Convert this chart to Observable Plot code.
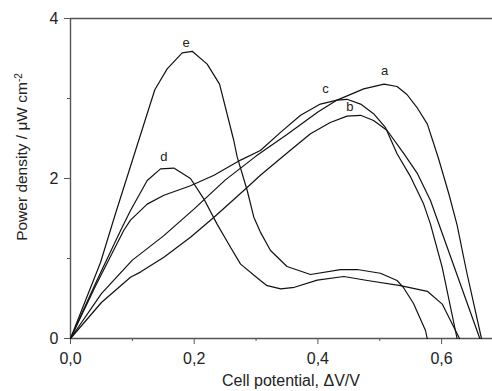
<!DOCTYPE html>
<html>
<head>
<meta charset="utf-8">
<script src="https://cdn.jsdelivr.net/npm/d3@7"></script>
<script src="https://cdn.jsdelivr.net/npm/@observablehq/plot@0.6"></script>
<style>
  html, body { margin: 0; padding: 0; background: #fff; }
  #chart { width: 492px; height: 391px; overflow: hidden; }
</style>
</head>
<body>
<div id="chart"></div>
<script>
// Curve a
const aX = [0, 0.05, 0.1, 0.15, 0.2, 0.25, 0.3, 0.35, 0.4, 0.431, 0.474, 0.507, 0.528, 0.544, 0.56, 0.577, 0.595, 0.612, 0.625, 0.64, 0.6645];
const aY = [0, 0.56, 0.98, 1.28, 1.62, 1.98, 2.28, 2.55, 2.83, 2.98, 3.12, 3.18, 3.15, 3.05, 2.89, 2.68, 2.25, 1.8, 1.42, 0.85, 0];
// Curve b
const bX = [0, 0.05, 0.097, 0.113, 0.151, 0.194, 0.232, 0.286, 0.307, 0.355, 0.388, 0.42, 0.447, 0.469, 0.49, 0.512, 0.539, 0.561, 0.582, 0.6618];
const bY = [0, 0.45, 0.766, 0.83, 1.016, 1.266, 1.516, 1.89, 2.04, 2.35, 2.56, 2.7, 2.78, 2.79, 2.725, 2.6, 2.31, 2.06, 1.725, 0];
// Curve c
const cX = [0, 0.04, 0.086, 0.097, 0.124, 0.151, 0.194, 0.232, 0.275, 0.307, 0.34, 0.372, 0.404, 0.431, 0.447, 0.469, 0.49, 0.509, 0.528, 0.55, 0.571, 0.582, 0.601, 0.625];
const cY = [0, 0.65, 1.35, 1.48, 1.68, 1.79, 1.91, 2.04, 2.23, 2.35, 2.58, 2.79, 2.93, 2.98, 2.99, 2.93, 2.81, 2.64, 2.31, 2.02, 1.68, 1.43, 0.89, 0];
// Curve d
const dX = [0, 0.04, 0.081, 0.097, 0.124, 0.1455, 0.167, 0.194, 0.2155, 0.237, 0.2587, 0.275, 0.307, 0.318, 0.34, 0.362, 0.399, 0.442, 0.48, 0.5335, 0.577, 0.601, 0.6225, 0.629];
const dY = [0, 0.68, 1.35, 1.6, 1.975, 2.12, 2.13, 2.0, 1.746, 1.43, 1.14, 0.93, 0.725, 0.66, 0.62, 0.64, 0.73, 0.775, 0.725, 0.66, 0.59, 0.43, 0.1, 0];
// Curve e
const eX = [0, 0.0485, 0.0728, 0.1363, 0.1563, 0.1806, 0.1968, 0.221, 0.241, 0.264, 0.2695, 0.2857, 0.2964, 0.307, 0.3234, 0.35, 0.388, 0.4365, 0.4635, 0.501, 0.528, 0.538, 0.5546, 0.574, 0.5767];
const eY = [0, 0.95, 1.5625, 3.11, 3.37, 3.57, 3.59, 3.43, 3.18, 2.475, 2.27, 1.85, 1.516, 1.33, 1.1, 0.9, 0.8, 0.86, 0.8625, 0.816, 0.725, 0.64, 0.4375, 0.1, 0];

const seriesNames = ["a", "b", "c", "d", "e"];
const labelX = [0.5077, 0.4516, 0.4123, 0.1508, 0.1871];
const labelY = [3.35, 2.895, 3.125, 2.275, 3.69];

const xTicks = [0, 0.2, 0.4, 0.6];
const xMinor = [0.1, 0.3, 0.5];
const yTicks = [0, 2, 4];
const yMinor = [1, 3];

const xs = [aX, bX, cX, dX, eX];
const ys = [aY, bY, cY, dY, eY];
const rows = [];
seriesNames.forEach((s, i) => xs[i].forEach((x, j) => rows.push({series: s, x, y: ys[i][j]})));
const labels = seriesNames.map((s, i) => ({s, x: labelX[i], y: labelY[i]}));

const fmt = d => d3.format(".1f")(d).replace(".", ",");
const axisColor = "#555";
const font = "Liberation Sans, Arial, Helvetica, sans-serif";

const chart = Plot.plot({
  width: 492,
  height: 391,
  marginLeft: 70,
  marginRight: 0,
  marginTop: 18,
  marginBottom: 53,
  style: {fontFamily: font, background: "#fff", color: "#222"},
  x: {domain: [0, 0.6823]},
  y: {domain: [0, 4]},
  marks: [
    Plot.axisX({ticks: xTicks, tickSize: 6, tickPadding: 8, tickFormat: fmt, fontSize: 16, stroke: axisColor, fill: "#222", label: null}),
    Plot.axisX({ticks: xMinor, tickSize: 3, tickFormat: () => "", stroke: axisColor, label: null}),
    Plot.axisY({ticks: yTicks, tickSize: 6, tickPadding: 6, tickFormat: d => String(d), fontSize: 16, stroke: axisColor, fill: "#222", label: null}),
    Plot.axisY({ticks: yMinor, tickSize: 3, tickFormat: () => "", stroke: axisColor, label: null}),
    Plot.ruleY([0], {stroke: axisColor, strokeWidth: 1.6}),
    Plot.ruleY([4], {stroke: axisColor, strokeWidth: 1.6}),
    Plot.ruleX([0], {stroke: axisColor, strokeWidth: 1.4}),
    Plot.line(rows, {x: "x", y: "y", z: "series", stroke: "#111", strokeWidth: 1.2, curve: "linear"}),
    Plot.text(labels, {x: "x", y: "y", text: "s", fontSize: 13, fill: "#222"})
  ]
});

const svg = d3.select(chart);
// x axis title
svg.append("text")
  .attr("x", 291).attr("y", 386)
  .attr("text-anchor", "middle")
  .attr("font-family", font).attr("font-size", 16).attr("fill", "#222")
  .text("Cell potential, ΔV/V");
// y axis title with superscript
const yt = svg.append("text")
  .attr("transform", "translate(27,157) rotate(-90)")
  .attr("text-anchor", "middle")
  .attr("font-family", font).attr("font-size", 15.5).attr("fill", "#222");
yt.append("tspan").text("Power density / μW cm");
yt.append("tspan").attr("dy", "-0.5em").attr("font-size", 10).text("-2");

document.getElementById("chart").appendChild(chart);
</script>
</body>
</html>
